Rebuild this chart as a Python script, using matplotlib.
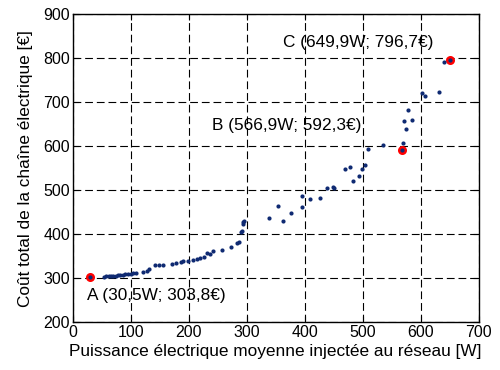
import matplotlib
matplotlib.use("Agg")
import matplotlib.pyplot as plt

plt.rcParams['font.family'] = ['Liberation Sans', 'DejaVu Sans']

# nuage de points (puissance W, coût €)
puissance = [54.6, 58, 62, 66, 70, 74, 78, 82, 86, 90, 95, 100, 104, 109,
             122, 128, 132, 142.5, 148, 156, 172, 178, 186, 191, 199, 208,
             214, 220, 226, 232, 236, 242.5, 257.5, 273, 283, 287, 289.6,
             292, 293, 294, 296, 338, 353.4, 363, 376, 395, 396, 408.6, 426,
             438, 448, 450, 469, 478, 483, 494, 499, 504.6, 508.6, 535.5,
             569, 574, 571, 585.5, 577.6, 602.8, 607, 631.6, 641]
cout = [303.8, 304.5, 305, 305.5, 306, 306.5, 307, 307.5, 308, 309, 310, 311,
        312, 313, 315, 317, 322, 329.5, 331, 331, 333, 335, 337, 338.6,
        338.6, 342, 344, 346, 348, 357, 354.5, 363, 364, 372, 381, 382.6,
        405, 408, 423.5, 428, 431, 437, 465, 431, 449, 462, 488, 481, 482,
        505, 508, 505, 548, 552, 520, 532, 549, 557, 594.6, 602, 607, 639,
        658, 660, 682, 720.5, 713, 723, 790]

# points remarquables
pts_w = [30.5, 566.9, 649.9]
pts_e = [303.8, 592.3, 796.7]
labels = ["A (30,5W; 303,8€)", "B (566,9W; 592,3€)", "C (649,9W; 796,7€)"]
label_pos = [(25, 262), (240, 648), (362, 835)]

fig = plt.figure(figsize=(5, 3.7), dpi=100)
ax = fig.add_axes([0.1454, 0.1284, 0.812, 0.8338])

bleu = '#0f2a72'
ax.plot(pts_w, pts_e, 'o', color='red', markersize=6.5, markeredgewidth=0, zorder=3)
ax.plot(puissance, cout, 'o', color=bleu, markersize=3, markeredgewidth=0, zorder=4)
ax.plot(pts_w, pts_e, 'o', color=bleu, markersize=3, markeredgewidth=0, zorder=5)

for txt, (tx, ty) in zip(labels, label_pos):
    ax.text(tx, ty, txt, fontsize=12.4, va='center', ha='left')

ax.set_xlim(0, 700)
ax.set_ylim(200, 900)
ax.set_xticks(range(0, 701, 100))
ax.set_yticks(range(200, 901, 100))
ax.grid(True, color='black', linestyle=(0, (7, 3.5)), linewidth=0.8)
ax.tick_params(direction='in', top=True, right=True, labelsize=11.5, length=4, pad=2)
for s in ax.spines.values():
    s.set_linewidth(1.0)

ax.set_xlabel("Puissance électrique moyenne injectée au réseau [W]", fontsize=12.4, labelpad=3)
ax.set_ylabel("Coût total de la chaîne électrique [€]", fontsize=12.4, labelpad=7.5)

fig.savefig("out.png", dpi=100)
